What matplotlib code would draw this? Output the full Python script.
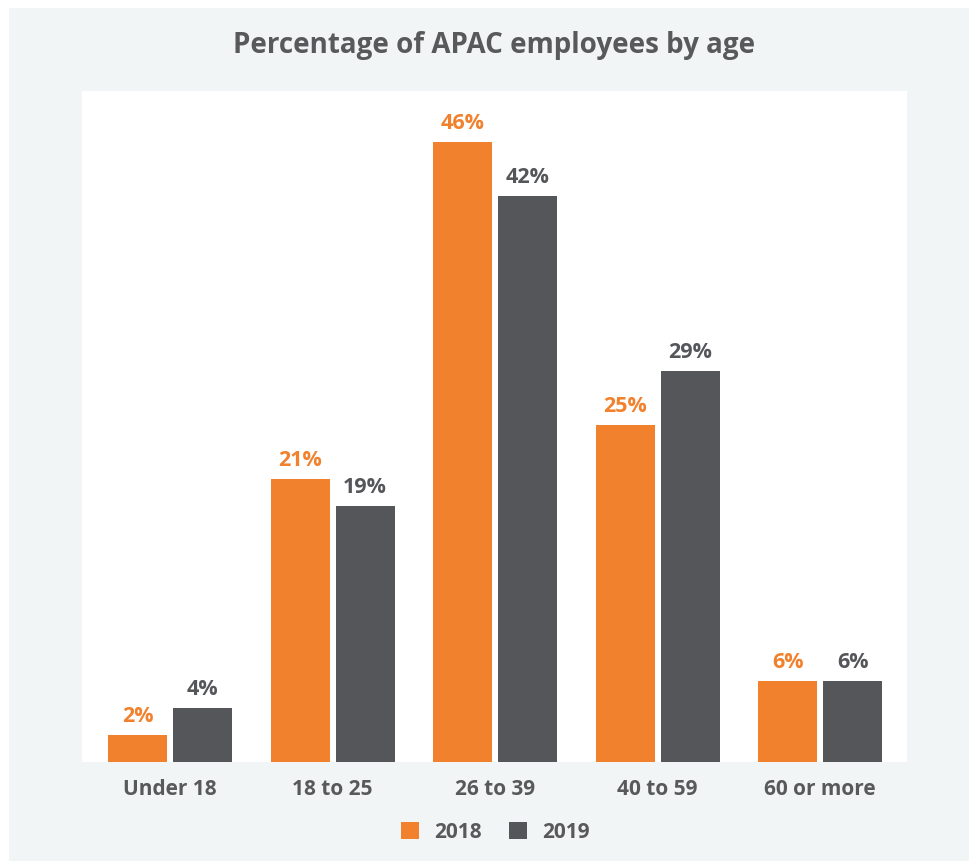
import matplotlib
matplotlib.use("Agg")
import matplotlib.pyplot as plt
import numpy as np
from matplotlib.patches import Rectangle

categories = ["Under 18", "18 to 25", "26 to 39", "40 to 59", "60 or more"]
series_names = ["2018", "2019"]
values_2018 = [2, 21, 46, 25, 6]
values_2019 = [4, 19, 42, 29, 6]

orange = "#F1812C"
dark = "#55565A"
text_gray = "#58595B"
bg = "#F1F5F6"

plt.rcParams['font.family'] = ['Open Sans', 'DejaVu Sans']
plt.rcParams['font.weight'] = 'bold'

fig = plt.figure(figsize=(9.69, 8.61), dpi=100)
fig.patch.set_facecolor("white")
# light backdrop behind the whole chart
fig.patches.append(Rectangle((9 / 969, 0), 1, 1 - 8 / 861, transform=fig.transFigure,
                             facecolor=bg, edgecolor="none", zorder=-10))

ax = fig.add_axes([82 / 969, 1 - 762 / 861, 825 / 969, 671 / 861])
ax.set_facecolor("white")

x = np.arange(len(categories))
w = 0.363
off = 0.2
b1 = ax.bar(x - off, values_2018, w, color=orange, label=series_names[0])
b2 = ax.bar(x + off, values_2019, w, color=dark, label=series_names[1])

for bars, vals, col in [(b1, values_2018, orange), (b2, values_2019, dark)]:
    for bar, v in zip(bars, vals):
        ax.annotate(f"{v}%", (bar.get_x() + bar.get_width() / 2, v),
                    xytext=(0, 6), textcoords="offset points",
                    ha="center", va="bottom", color=col,
                    fontsize=15.5, fontweight="bold")

ax.set_xlim(-0.5415, 4.535)
ax.set_ylim(0, 49.8)
ax.set_yticks([])
ax.set_xticks(x)
ax.set_xticklabels(categories, fontsize=15, fontweight="bold", color=text_gray)
ax.tick_params(axis="x", length=0, pad=12)
for s in ax.spines.values():
    s.set_visible(False)

fig.text(494 / 969, 1 - 45 / 861, "Percentage of APAC employees by age", ha="center", va="center",
         fontsize=20, fontweight="bold", color=text_gray)

leg = fig.legend(handles=[b1, b2], labels=series_names, loc="center",
                 bbox_to_anchor=(495 / 969, 1 - 832 / 861), ncol=2, frameon=False,
                 handlelength=0.9, handleheight=0.9, handletextpad=0.7, columnspacing=1.3,
                 prop={"size": 15, "weight": "bold"})
for t in leg.get_texts():
    t.set_color(text_gray)

fig.savefig("out.png", dpi=100, facecolor=fig.get_facecolor())
